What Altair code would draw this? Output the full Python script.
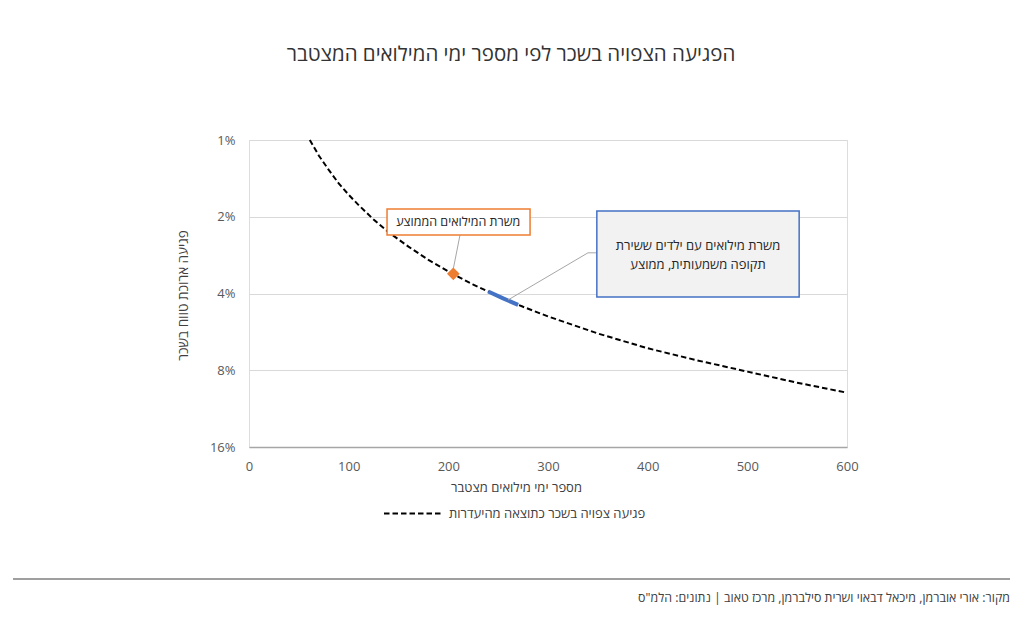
import altair as alt
import pandas as pd

FONT = "Open Sans"

title_text = "הפגיעה הצפויה בשכר לפי מספר ימי המילואים המצטבר"
x_title = "מספר ימי מילואים מצטבר"
y_title = "פגיעה ארוכת טווח בשכר"
series_name = "פגיעה צפויה בשכר כתוצאה מהיעדרות"
source_text = 'מקור: אורי אוברמן, מיכאל דבאוי ושרית סילברמן, מרכז טאוב | נתונים: הלמ"ס'
avg_label = "משרת המילואים הממוצע"
kids_label = ["משרת מילואים עם ילדים ששירת", "תקופה משמעותית, ממוצע"]

# main curve (days of reserve duty, long-term wage impact in %)
days = [61, 70, 80, 90, 100, 110, 125, 140, 160, 180, 205, 225, 250, 275, 300, 350, 400, 450, 500, 550, 600]
impact = [1.0, 1.15, 1.31, 1.48, 1.64, 1.80, 2.05, 2.30, 2.62, 2.95, 3.36, 3.69, 4.10, 4.51, 4.92, 5.74, 6.56, 7.32, 8.10, 8.95, 9.80]

# average reservist
avg_day = [205]
avg_impact = [3.35]

# reservists with children who served a long period
kids_days = [240, 255, 270]
kids_impact = [3.93, 4.18, 4.43]

x_ticks = [0, 100, 200, 300, 400, 500, 600]
y_ticks = [1, 2, 4, 8, 16]

# annotation callouts (data coordinates)
avg_box_x = [138.5, 282]
avg_box_y = [1.865, 2.36]
avg_text_xy = [210, 2.1]
avg_leader_x = [211.7, 205]
avg_leader_y = [2.36, 3.2]
kids_box_x = [349, 552]
kids_box_y = [1.9, 4.13]
kids_text_x = [450.5, 450.5]
kids_text_y = [2.6, 3.09]
kids_leader_x = [349.2, 340.1, 259.9]
kids_leader_y = [2.77, 2.77, 4.24]

DASH = [5.5, 3]

xscale = alt.Scale(domain=[0, 600], nice=False)
yscale = alt.Scale(type="log", domain=[1, 16], reverse=True, nice=False)
xaxis = alt.Axis(values=x_ticks, ticks=False, grid=False, domainColor="#a6a6a6", domainWidth=1.5,
                 labelFont=FONT, labelFontSize=13, labelColor="#595959", labelPadding=13, labelFlush=False,
                 title=x_title, titleFont=FONT, titleFontSize=13, titleFontWeight="normal",
                 titleColor="#404040", titleX=267, titleY=40, titleAlign="center", titleBaseline="middle")
yaxis = alt.Axis(values=y_ticks, ticks=False, domain=False, grid=True, gridColor="#d9d9d9", gridWidth=1.2,
                 labelExpr="datum.value + '%'", labelFont=FONT, labelFontSize=13, labelColor="#595959",
                 labelPadding=14, labelFlush=False,
                 title=y_title, titleFont=FONT, titleFontSize=13.5, titleFontWeight="normal",
                 titleColor="#404040", titleAngle=270, titleX=-66, titleY=155,
                 titleAlign="center", titleBaseline="middle")


def X(f):
    return alt.X(f, type="quantitative", scale=xscale, axis=xaxis)


def Y(f):
    return alt.Y(f, type="quantitative", scale=yscale, axis=yaxis)


curve_df = pd.DataFrame({"days": days, "impact": impact, "series": series_name})
curve = alt.Chart(curve_df).mark_line(strokeDash=DASH, strokeWidth=2).encode(
    x=X("days"), y=Y("impact"),
    color=alt.Color("series:N", scale=alt.Scale(domain=[series_name], range=["black"]),
                    legend=alt.Legend(orient="none", legendX=134, legendY=343, title=None,
                                      symbolType="stroke", symbolStrokeWidth=2, symbolDash=DASH,
                                      symbolSize=3481, labelFont=FONT, labelFontSize=13,
                                      labelColor="#404040", padding=0, labelOffset=5, labelLimit=0))
)

kids_df = pd.DataFrame({"days": kids_days, "impact": kids_impact})
kids_line = alt.Chart(kids_df).mark_line(color="#4472c4", strokeWidth=4).encode(x=X("days"), y=Y("impact"))

avg_df = pd.DataFrame({"days": avg_day, "impact": avg_impact})
avg_point = alt.Chart(avg_df).mark_point(shape="diamond", filled=True, color="#ed7d31", size=160, opacity=1).encode(
    x=X("days"), y=Y("impact"))

avg_lead_df = pd.DataFrame({"x": [avg_leader_x[0]], "x2": [avg_leader_x[1]], "y": [avg_leader_y[0]], "y2": [avg_leader_y[1]]})
avg_leader = alt.Chart(avg_lead_df).mark_rule(color="#a6a6a6", strokeWidth=1).encode(
    x=X("x"), x2="x2", y=Y("y"), y2="y2")

kids_lead_df = pd.DataFrame({"x": kids_leader_x, "y": kids_leader_y, "o": [0, 1, 2]})
kids_leader = alt.Chart(kids_lead_df).mark_line(color="#a6a6a6", strokeWidth=1).encode(
    x=X("x"), y=Y("y"), order="o:Q")

avg_box_df = pd.DataFrame({"x": [avg_box_x[0]], "x2": [avg_box_x[1]], "y": [avg_box_y[0]], "y2": [avg_box_y[1]]})
avg_box = alt.Chart(avg_box_df).mark_rect(fill="white", stroke="#ed7d31", strokeWidth=1.5).encode(
    x=X("x"), x2="x2", y=Y("y"), y2="y2")

kids_box_df = pd.DataFrame({"x": [kids_box_x[0]], "x2": [kids_box_x[1]], "y": [kids_box_y[0]], "y2": [kids_box_y[1]]})
kids_box = alt.Chart(kids_box_df).mark_rect(fill="#f2f2f2", stroke="#4472c4", strokeWidth=1.5).encode(
    x=X("x"), x2="x2", y=Y("y"), y2="y2")

avg_text_df = pd.DataFrame({"x": [avg_text_xy[0]], "y": [avg_text_xy[1]], "t": [avg_label]})
avg_text = alt.Chart(avg_text_df).mark_text(font=FONT, fontSize=12.5, color="#262626", align="center",
                                             baseline="middle").encode(x=X("x"), y=Y("y"), text="t:N")

kids_text_df = pd.DataFrame({"x": kids_text_x, "y": kids_text_y, "t": kids_label})
kids_text = alt.Chart(kids_text_df).mark_text(font=FONT, fontSize=13, color="#262626", align="center",
                                               baseline="middle").encode(x=X("x"), y=Y("y"), text="t:N")

one = pd.DataFrame({"t": [title_text]})
title = alt.Chart(one).mark_text(font=FONT, fontSize=20.5, color="#333333", align="center",
                                 baseline="middle").encode(x=alt.value(262), y=alt.value(-85), text="t:N")

foot_line = alt.Chart(pd.DataFrame({"a": [0]})).mark_rule(color="#7f7f7f", strokeWidth=1.5).encode(
    x=alt.value(-236), x2=alt.value(761), y=alt.value(439))

src = pd.DataFrame({"t": [source_text]})
foot_text = alt.Chart(src).mark_text(font=FONT, fontSize=12.4, color="#404040", align="right",
                                     baseline="middle").encode(x=alt.value(761), y=alt.value(458), text="t:N")

chart = alt.layer(
    curve, kids_line, avg_leader, kids_leader, avg_box, kids_box, avg_point, avg_text, kids_text,
    title, foot_line, foot_text
).properties(
    width=598, height=307,
    padding={"left": 241, "top": 132, "right": 165, "bottom": 160},
    autosize=alt.AutoSizeParams(type="none"),
).configure_view(stroke=None).configure(background="white")

chart.save("out.html", embed_options={"renderer": "svg", "actions": False})
